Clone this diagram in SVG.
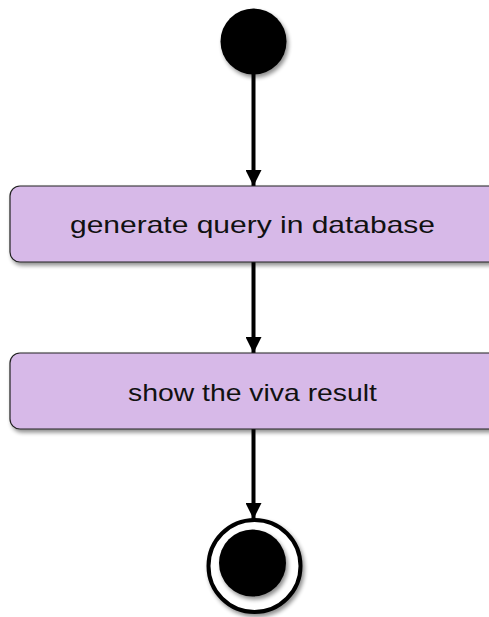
<svg xmlns="http://www.w3.org/2000/svg" width="489" height="617" viewBox="0 0 489 617">
  <defs>
    <filter id="sh" x="-10%" y="-20%" width="130%" height="160%">
      <feGaussianBlur in="SourceAlpha" stdDeviation="2"/>
      <feOffset dx="2" dy="3" result="o"/>
      <feComponentTransfer><feFuncA type="linear" slope="0.45"/></feComponentTransfer>
      <feMerge><feMergeNode/><feMergeNode in="SourceGraphic"/></feMerge>
    </filter>
    <marker id="ah" viewBox="0 0 16 16" refX="16" refY="8" markerWidth="16" markerHeight="16" markerUnits="userSpaceOnUse" orient="auto">
      <path d="M0,0 L16,8 L0,16 Z" fill="#000"/>
    </marker>
  </defs>
  <style>
    .act{fill:#D7B9E8;stroke:#222;stroke-width:1.2}
    .lbl{font-family:"Liberation Sans",Arial,sans-serif;font-size:24px;fill:#111;text-anchor:middle}
    .edge{stroke:#000;stroke-width:4;fill:none}
  </style>
  <g id="connectors">
    <line class="edge" x1="253.5" y1="70" x2="253.5" y2="186" marker-end="url(#ah)"/>
    <line class="edge" x1="253.5" y1="258" x2="253.5" y2="353" marker-end="url(#ah)"/>
    <line class="edge" x1="253.5" y1="427" x2="253.5" y2="519" marker-end="url(#ah)"/>
  </g>
  <g id="start">
    <circle cx="253.5" cy="41.5" r="33" fill="#000" filter="url(#sh)"/>
  </g>
  <g id="generate">
    <rect class="act" x="10" y="186" width="500" height="76" rx="10" filter="url(#sh)"/>
    <text class="lbl" x="252.5" y="233" textLength="365" lengthAdjust="spacingAndGlyphs">generate query in database</text>
  </g>
  <g id="show">
    <rect class="act" x="10" y="353" width="500" height="76" rx="10" filter="url(#sh)"/>
    <text class="lbl" x="252.5" y="401" textLength="249" lengthAdjust="spacingAndGlyphs">show the viva result</text>
  </g>
  <g id="end">
    <circle cx="254.5" cy="566" r="46" fill="#fff" stroke="#000" stroke-width="4" filter="url(#sh)"/>
    <circle cx="252.5" cy="563" r="33.5" fill="#000" filter="url(#sh)"/>
  </g>
</svg>
